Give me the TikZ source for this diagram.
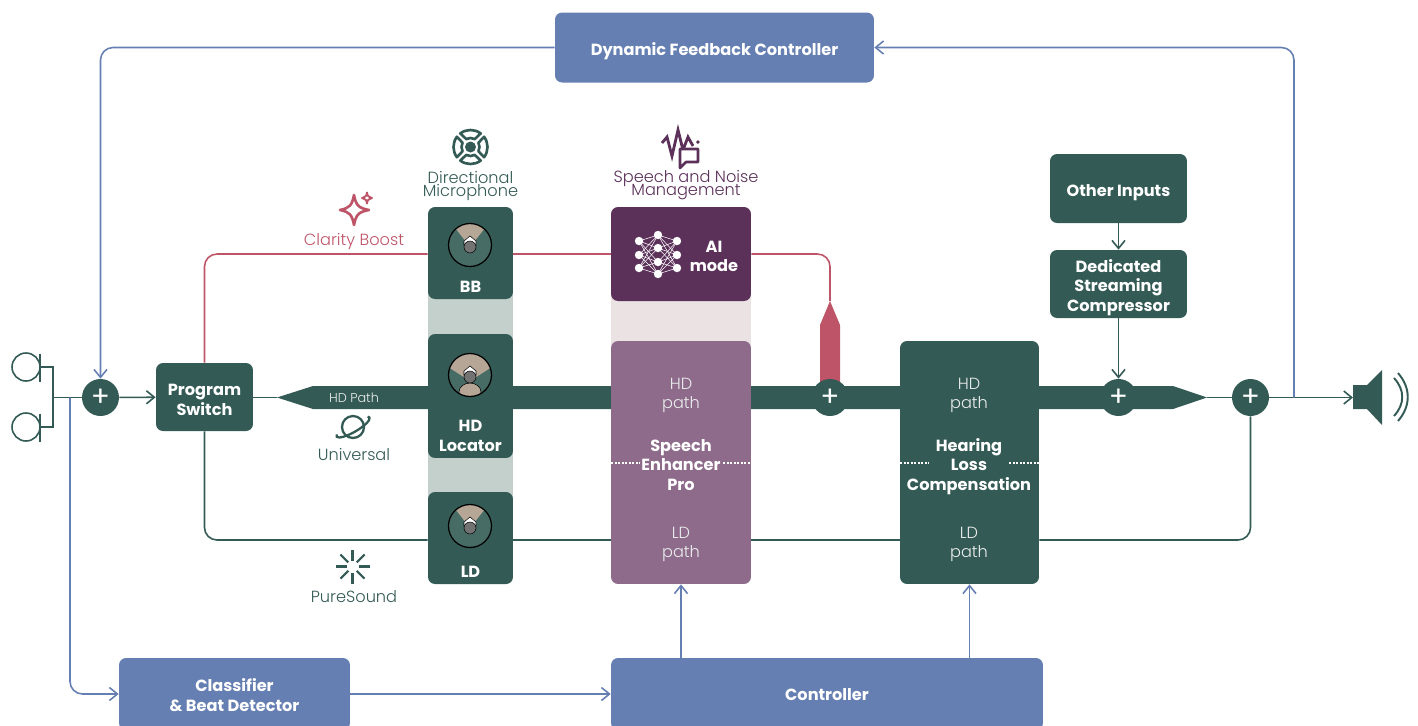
\documentclass[tikz,border=0pt]{standalone}
\usepackage{fontspec}
\setmainfont{Poppins}
\newfontface\lighttype{Poppins Light}
\usetikzlibrary{arrows.meta}

\definecolor{deepgreen}{HTML}{335A54}
\definecolor{paleblue}{HTML}{667FB2}
\definecolor{rosered}{HTML}{BE5468}
\definecolor{darkplum}{HTML}{5B3059}
\definecolor{mauve}{HTML}{8E6A8B}
\definecolor{beige}{HTML}{B5A696}
\definecolor{headgreen}{HTML}{476C65}
\definecolor{greenband}{HTML}{C3D0CC}
\definecolor{plumband}{HTML}{EBE2E3}

\tikzset{
  box/.style={rectangle, rounded corners=0.14cm, inner sep=0pt},
  greenbox/.style={box, fill=deepgreen},
  bluebox/.style={box, fill=paleblue},
  boxlabel/.style={inner sep=0pt, align=center, text=white, font=\fontsize{9.2}{11}\selectfont\bfseries},
  pathlabel/.style={inner sep=0pt, align=center, text=white!90!deepgreen, font=\fontsize{9.2}{10.8}\selectfont\lighttype},
  sumnode/.style={circle, fill=deepgreen, minimum size=0.74cm, inner sep=0pt, text=white,
    font=\fontsize{16}{16}\selectfont},
  iconlabel/.style={inner sep=0pt, align=center, font=\fontsize{9.2}{7.4}\selectfont\lighttype\lineskiplimit -10pt\relax},
  wire/.style={line width=0.9pt},
  greenline/.style={wire, color=deepgreen},
  blueline/.style={wire, color=paleblue, rounded corners=0.25cm},
  redline/.style={wire, color=rosered, rounded corners=0.25cm},
  tip/.style={-{Straight Barb[length=1.6mm,width=2.6mm]}},
  dotline/.style={white, line width=0.6pt, dash pattern=on 1.2pt off 0.8pt},
}

% one listener seen from above, #1 is the centre
\newcommand{\headdisc}[1]{
  \begin{scope}[shift={#1}]
    \fill[headgreen] (0,0) circle (21.5);
    \fill[beige] (0,2) -- (-14,-16) arc (229:311:21.5) -- cycle;
    \draw[black, line width=0.7pt] (0,0) circle (21.5);
    \fill[white, draw=black, line width=0.3pt] (-6,0) -- (-6,-4) -- (0,-9) -- (6,-4) -- (6,0) -- cycle;
    \fill[gray!90!black, draw=black, line width=0.3pt] (0,2) circle (6);
  \end{scope}
}

\begin{document}
\begin{tikzpicture}[x=0.02cm, y=-0.02cm]
  \useasboundingbox (0,0) rectangle (1418,725);

  % pale bands behind the boxes
  \fill[greenband] (428,290) rectangle (513,500);
  \fill[plumband] (611,295) rectangle (751,345);

  % wide signal path
  \fill[deepgreen] (277,397.5) -- (313,386) -- (1173,386) -- (1207,397.5) -- (1173,409) -- (313,409) -- cycle;
  \fill[rosered] (830,301) -- (840,325) -- (840,385) -- (820,385) -- (820,325) -- cycle;

  \node[bluebox, minimum width=6.38cm, minimum height=1.4cm] (dfc) at (714.5,47.5) {};
  \node[boxlabel] (dfctext) at (714.5,51.5) {Dynamic Feedback Controller};

  \node[sumnode] (sumin) at (100.5,397.5) {+};
  \node[greenbox, minimum width=1.94cm, minimum height=1.36cm] (psw) at (204.5,397) {};
  \node[boxlabel] (pswtext) at (204.5,400) {Program\\Switch};

  \node[greenbox, minimum width=1.7cm, minimum height=1.84cm] (bb) at (470.5,253) {};
  \node[greenbox, minimum width=1.7cm, minimum height=2.48cm] (hd) at (470.5,396) {};
  \node[greenbox, minimum width=1.7cm, minimum height=1.84cm] (ld) at (470.5,538) {};
  \node[boxlabel] (bbtext) at (470.5,287) {BB};
  \node[boxlabel] (hdtext) at (470.5,436) {HD\\Locator};
  \node[boxlabel] (ldtext) at (470.5,572) {LD};

  \node[box, fill=darkplum, minimum width=2.8cm, minimum height=1.88cm] (ai) at (681,254) {};
  \node[boxlabel] (aitext) at (714,256.5) {AI\\mode};

  \node[box, fill=mauve, minimum width=2.8cm, minimum height=4.86cm] (sep) at (681,462.5) {};
  \node[greenbox, minimum width=2.78cm, minimum height=4.86cm] (hlc) at (969.5,462.5) {};

  \node[sumnode] (summid) at (830,397.5) {+};
  \node[sumnode] (sumstr) at (1118.5,397.5) {+};
  \node[sumnode] (sumout) at (1250.5,397.5) {+};

  \node[greenbox, minimum width=2.74cm, minimum height=1.38cm] (other) at (1118.5,188.5) {};
  \node[boxlabel] (othertext) at (1118.5,192.5) {Other Inputs};
  \node[greenbox, minimum width=2.74cm, minimum height=1.36cm] (dsc) at (1118.5,284) {};
  \node[boxlabel] (dsctext) at (1118.5,287.5) {Dedicated\\Streaming\\Compressor};

  \node[bluebox, minimum width=4.62cm, minimum height=1.44cm] (clf) at (234.5,694) {};
  \node[boxlabel] (clftext) at (234.5,695) {Classifier\\\& Beat Detector};
  \node[bluebox, minimum width=8.64cm, minimum height=1.44cm] (ctl) at (827,694) {};
  \node[boxlabel] (ctltext) at (827,695) {Controller};

  % texts on the two tall boxes
  \foreach \name/\xpos in {sep/681,hlc/969}{
    \node[pathlabel] (\name hd) at (\xpos,395.5) {HD\\path};
    \node[pathlabel] (\name ld) at (\xpos,544.5) {LD\\path};
  }
  \draw[dotline] (611,463) -- (640,463);
  \draw[dotline] (723,463) -- (751,463);
  \draw[dotline] (900,463) -- (929,463);
  \draw[dotline] (1009,463) -- (1039,463);
  \node[boxlabel] (septext) at (681,465) {Speech\\Enhancer\\Pro};
  \node[boxlabel] (hlctext) at (969,466.5) {Hearing\\Loss\\Compensation};
  \node[pathlabel, font=\fontsize{7.3}{8}\selectfont\lighttype] (pathtext) at (354,398) {HD Path};

  % free ends and rows
  \coordinate (lowrow) at (0,540);
  \coordinate (tapin) at (70,397.5);
  \coordinate (tapout) at (1294,397.5);
  \coordinate (pathleft) at (277,397.5);
  \coordinate (pathright) at (1207,397.5);
  \coordinate (redtop) at (830,301);
  \coordinate (micjoin) at (53,397.5);
  \coordinate (speaker) at (1353,397.5);

  % microphones
  \node[circle, draw=deepgreen, line width=0.9pt, minimum size=0.56cm, inner sep=0pt] (mictop) at (26,367) {};
  \node[circle, draw=deepgreen, line width=0.9pt, minimum size=0.56cm, inner sep=0pt] (micbot) at (26,427) {};
  \draw[greenline] (40,353.5) -- (40,381.5);
  \draw[greenline] (40,413.5) -- (40,441.5);
  \draw[greenline] (40,367) -- (53,367) -- (53,427) -- (40,427);
  \draw[greenline] (micjoin) -- (sumin);
  \draw[greenline, tip] (sumin) -- (psw);
  \draw[greenline] (psw.east |- pathleft) -- (pathleft);
  \draw[greenline] (pathright) -- (sumout);
  \draw[greenline, tip] (sumout) -- (speaker);
  \draw[greenline, tip] (other) -- (dsc);
  \draw[greenline, tip] (dsc) -- (sumstr);

  % low definition branch
  \draw[greenline, rounded corners=0.25cm] (psw.south) |- (ld.west |- lowrow);
  \draw[greenline] (ld.east |- lowrow) -- (sep.west |- lowrow);
  \draw[greenline] (sep.east |- lowrow) -- (hlc.west |- lowrow);
  \draw[greenline, rounded corners=0.25cm] (hlc.east |- lowrow) -| (sumout.south);

  % red branch
  \draw[redline] (psw.north) |- (bb.west |- ai.west);
  \draw[redline] (bb.east |- ai.west) -- (ai.west);
  \draw[redline] (ai.east) -| (redtop);

  % blue control lines
  \draw[blueline, tip] (dfc.west) -| (sumin.north);
  \draw[blueline, tip] (tapout) |- (dfc.east);
  \draw[blueline, tip] (tapin) |- (clf.west);
  \draw[blueline, tip] (clf.east) -- (ctl.west);
  \draw[blueline, tip] (ctl.north -| sep) -- (sep.south);
  \draw[blueline, tip] (ctl.north -| hlc) -- (hlc.south);

  % loudspeaker
  \fill[deepgreen] (1353,385) -- (1367,385) -- (1382,370) -- (1382,425) -- (1367,409) -- (1353,409) -- cycle;
  \draw[greenline, line width=1.1pt] (1398,373) .. controls (1411,388) and (1411,406) .. (1398,421);
  \draw[greenline, line width=1.1pt] (1394,378) .. controls (1405,390) and (1405,404) .. (1394,416);

  % listeners
  \headdisc{(470,245)}
  \headdisc{(470,526)}
  \begin{scope}[shift={(470,375)}]
    \fill[headgreen] (0,0) circle (21.5);
    \begin{scope}
      \clip (0,0) circle (21.5);
      \fill[beige] (0,6) -- (-25,-10) -- (-25,-25) -- (25,-25) -- (25,-10) -- cycle;
      \fill[beige, draw=black, line width=0.3pt] (0,17) ellipse (11 and 9);
    \end{scope}
    \draw[black, line width=0.7pt] (0,0) circle (21.5);
    \fill[white, draw=black, line width=0.3pt] (-6,0) -- (-6,-4) -- (0,-9) -- (6,-4) -- (6,0) -- cycle;
    \fill[gray!90!black, draw=black, line width=0.3pt] (0,2) circle (6);
  \end{scope}

  % network in the AI box
  \foreach \ya in {241,255,268}{
    \foreach \yb in {235,248,262,274}{
      \draw[white, line width=0.3pt] (639,\ya) -- (658,\yb) -- (677,\ya);
    }
    \fill[white] (639,\ya) circle (4.2);
    \fill[white] (677,\ya) circle (4.2);
  }
  \foreach \yb in {235,248,262,274}{
    \fill[white] (658,\yb) circle (4.2);
  }

  % directional icon
  \foreach \turn in {0,90,180,270}{
    \draw[deepgreen, line width=1.5pt, line join=round, rotate around={\turn:(470.5,147)}]
      ([shift={(-37:17)}]470.5,147) arc (-37:37:17) -- ([shift={(28:9)}]470.5,147) arc (28:-28:9) -- cycle;
  }
  \fill[deepgreen] (470.5,147) circle (5.5);
  \node[iconlabel, text=deepgreen] (dirtext) at (470.5,185.5) {Directional\\Microphone};

  % speech and noise icon
  \draw[darkplum, line width=1.6pt, line join=miter]
    (662,143) -- (667,137) -- (672,156) -- (678,130) -- (683,150) -- (688,137) -- (693,146);
  \draw[darkplum, line width=1.5pt] (697,143) -- (699,141);
  \draw[darkplum, line width=1.5pt, fill=white, line join=round]
    (680,149) -- (698,149) -- (698,162) -- (686,162) -- (680,168) -- cycle;
  \node[iconlabel, text=darkplum] (speechtext) at (686,185) {Speech and Noise\\Management};

  % clarity boost icon
  \draw[rosered, line width=1.5pt, line join=round]
    (354,195) .. controls (356,205) and (358,208) .. (369,210) .. controls (358,212) and (356,215) .. (354,225)
    .. controls (352,215) and (350,212) .. (340,210) .. controls (350,208) and (352,205) .. (354,195) -- cycle;
  \draw[rosered, line width=1.1pt, line join=round]
    (367,192.5) .. controls (367.5,196) and (368,196.5) .. (372,198) .. controls (368,199.5) and (367.5,200) .. (367,203.5)
    .. controls (366.5,200) and (366,199.5) .. (362,198) .. controls (366,196.5) and (366.5,196) .. (367,192.5) -- cycle;
  \node[iconlabel, text=rosered] (claritytext) at (354,241) {Clarity Boost};

  % universal icon
  \draw[deepgreen, line width=1.3pt] (353,427) circle (11);
  \draw[deepgreen, line width=1.3pt, rotate around={30:(353,427)}] (335.1,425.3) arc (200:-20:19 and 5);
  \node[iconlabel, text=deepgreen] (universaltext) at (354,454.5) {Universal};

  % puresound icon
  \foreach \turn in {0,45,...,315}{
    \draw[deepgreen, line width=1.2pt] ([shift={(\turn:6)}]352.5,566.5) -- ([shift={(\turn:17)}]352.5,566.5);
  }
  \node[iconlabel, text=deepgreen] (puretext) at (354,597) {PureSound};
\end{tikzpicture}
\end{document}
